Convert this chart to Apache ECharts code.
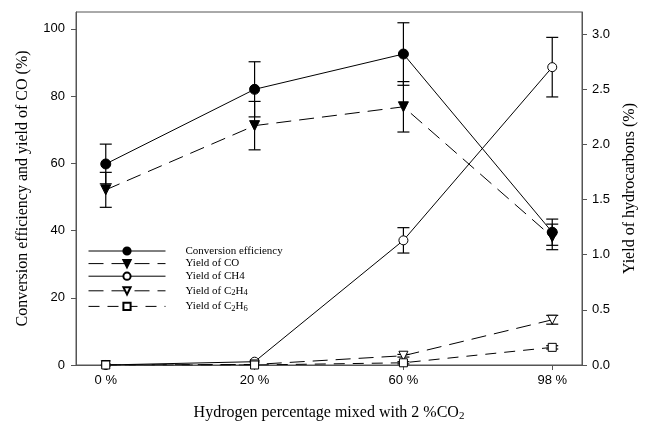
<!DOCTYPE html>
<html>
<head>
<meta charset="utf-8">
<script src="https://cdn.jsdelivr.net/npm/echarts@6/dist/echarts.min.js"></script>
<style>html,body{margin:0;padding:0;background:#fff;}#c{width:646px;height:427px;}</style>
</head>
<body>
<div id="c"></div>
<script>
const categories = ['0 %', '20 %', '60 %', '98 %'];
const convMean = [59.8, 82.0, 92.5, 39.5];
const convErr  = [5.9, 8.2, 9.3, 3.9];
const coMean   = [52.1, 71.2, 76.8, 38.1];
const coErr    = [5.2, 7.2, 7.5, 3.8];
const ch4Mean  = [0.0, 0.03, 1.13, 2.70];
const ch4Err   = [0, 0, 0.115, 0.27];
const c2h4Mean = [0.0, 0.005, 0.084, 0.41];
const c2h4Err  = [0, 0, 0.012, 0.04];
const c2h6Mean = [0.0, 0.0, 0.02, 0.16];
const c2h6Err  = [0, 0, 0.01, 0.015];
const leftTicks = [0, 20, 40, 60, 80, 100];
const rightTicks = [0, 0.5, 1.0, 1.5, 2.0, 2.5, 3.0];

const AX = '#555';
const serif = '"Liberation Serif", "Times New Roman", serif';
const sans = '"Liberation Sans", Arial, sans-serif';

function pts(arr) { return arr.map((v, i) => [i, v]); }
function errData(mean, err) {
  const out = [];
  mean.forEach((m, i) => { if (err[i] > 0) out.push([i, m - err[i], m + err[i]]); });
  return out;
}
function errSeries(mean, err, yIdx) {
  return {
    type: 'custom', yAxisIndex: yIdx, z: 3, silent: true,
    data: errData(mean, err),
    encode: { x: 0, y: [1, 2] },
    renderItem: function (params, api) {
      const x = api.value(0);
      const lo = api.coord([x, api.value(1)]);
      const hi = api.coord([x, api.value(2)]);
      const w = 6;
      const st = { stroke: '#000', lineWidth: 1.2 };
      return { type: 'group', children: [
        { type: 'line', shape: { x1: lo[0], y1: lo[1], x2: hi[0], y2: hi[1] }, style: st },
        { type: 'line', shape: { x1: lo[0] - w, y1: lo[1], x2: lo[0] + w, y2: lo[1] }, style: st },
        { type: 'line', shape: { x1: hi[0] - w, y1: hi[1], x2: hi[0] + w, y2: hi[1] }, style: st }
      ]};
    }
  };
}
function lineSeries(name, data, yIdx, symbol, size, filled, dash, rotate) {
  return {
    name: name, type: 'line', yAxisIndex: yIdx, data: pts(data), z: 5,
    symbol: symbol, symbolSize: size, symbolRotate: rotate || 0, showAllSymbol: true,
    lineStyle: { color: '#000', width: 1, type: dash },
    itemStyle: { color: filled ? '#000' : '#fff', borderColor: '#000', borderWidth: 1, opacity: 1 },
    emphasis: { disabled: true }
  };
}

const chart = echarts.init(document.getElementById('c'));
chart.setOption({
  animation: false,
  backgroundColor: '#fff',
  grid: { left: 76, right: 64, top: 12, bottom: 62, show: true, borderColor: AX, borderWidth: 1 },
  legend: {
    orient: 'vertical', left: 88, top: 245.5, padding: 0, itemWidth: 77, itemHeight: 9, itemGap: 1.6,
    data: ['Conversion efficiency', 'Yield of CO', 'Yield of CH4', 'Yield of C2H4', 'Yield of C2H6'],
    formatter: function (n) {
      if (n === 'Yield of C2H4') return '{n|Yield of C}{s|2}{n|H}{s|4}';
      if (n === 'Yield of C2H6') return '{n|Yield of C}{s|2}{n|H}{s|6}';
      return '{n|' + n + '}';
    },
    lineStyle: { width: 1 },
    textStyle: {
      padding: [0, 0, 0, 15],
      rich: {
        n: { fontFamily: serif, fontSize: 11, color: '#000', lineHeight: 13 },
        s: { fontFamily: serif, fontSize: 8.5, color: '#000', lineHeight: 13, verticalAlign: 'bottom', padding: [5, 0, 0, 0] }
      }
    }
  },
  xAxis: {
    type: 'value', min: -0.2, max: 3.2,
    axisLine: { show: true, onZero: false, lineStyle: { color: AX, width: 1 } },
    axisTick: { show: true, length: 5, lineStyle: { color: AX }, customValues: [0, 1, 2, 3] },
    axisLabel: { customValues: [0, 1, 2, 3], formatter: v => categories[Math.round(v)], fontFamily: sans, fontSize: 13, color: '#000', margin: 9 },
    splitLine: { show: false },
    name: 'Hydrogen percentage mixed with 2 %CO{s|2}',
    nameLocation: 'middle', nameGap: 38,
    nameTextStyle: { fontFamily: serif, fontSize: 16, color: '#000',
      rich: { s: { fontFamily: serif, fontSize: 11, color: '#000', verticalAlign: 'bottom', padding: [8, 0, 0, 0] } } }
  },
  yAxis: [
    {
      type: 'value', min: 0, max: 105, position: 'left',
      axisLine: { show: true, onZero: false, lineStyle: { color: AX } },
      axisTick: { show: true, length: 5, lineStyle: { color: AX }, customValues: leftTicks },
      axisLabel: { customValues: leftTicks, fontFamily: sans, fontSize: 13, color: '#000', margin: 11 },
      splitLine: { show: false },
      name: 'Conversion efficiency and yield of CO (%)', nameLocation: 'middle', nameRotate: 90, nameGap: 45,
      nameTextStyle: { fontFamily: serif, fontSize: 16, color: '#000' }
    },
    {
      type: 'value', min: 0, max: 3.2, position: 'right',
      axisLine: { show: true, onZero: false, lineStyle: { color: AX } },
      axisTick: { show: true, length: 5, lineStyle: { color: AX }, customValues: rightTicks },
      axisLabel: { customValues: rightTicks, formatter: v => v.toFixed(1), fontFamily: sans, fontSize: 13, color: '#000', margin: 10 },
      splitLine: { show: false },
      name: 'Yield of hydrocarbons (%)', nameLocation: 'middle', nameRotate: 90, nameGap: 40,
      nameTextStyle: { fontFamily: serif, fontSize: 16, color: '#000' }
    }
  ],
  series: [
    errSeries(convMean, convErr, 0),
    errSeries(coMean, coErr, 0),
    errSeries(ch4Mean, ch4Err, 1),
    errSeries(c2h4Mean, c2h4Err, 1),
    errSeries(c2h6Mean, c2h6Err, 1),
    lineSeries('Conversion efficiency', convMean, 0, 'circle', 10, true, 'solid'),
    lineSeries('Yield of CO', coMean, 0, 'triangle', 10, true, [15, 8], 180),
    lineSeries('Yield of CH4', ch4Mean, 1, 'circle', 9, false, 'solid'),
    lineSeries('Yield of C2H4', c2h4Mean, 1, 'triangle', 9, false, [15, 8], 180),
    lineSeries('Yield of C2H6', c2h6Mean, 1, 'rect', 8, false, [11, 8])
  ]
});
</script>
</body>
</html>
